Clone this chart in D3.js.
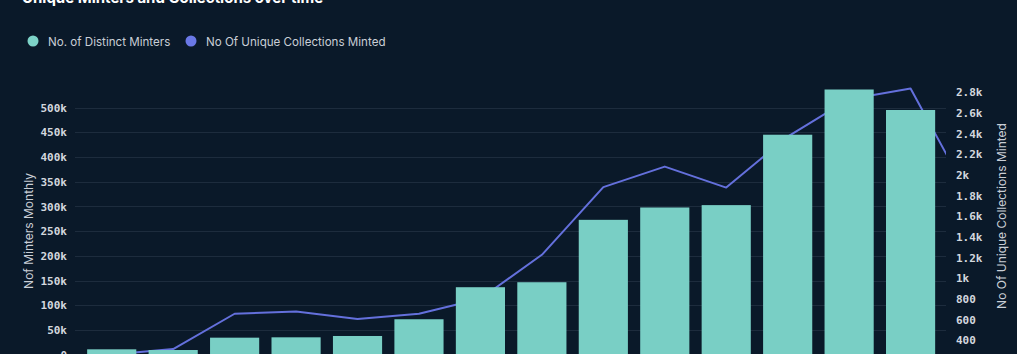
<!DOCTYPE html>
<html lang="en">
<head>
  <meta charset="utf-8" />
  <title>Unique Minters and Collections over time</title>
  <script src="https://cdn.jsdelivr.net/npm/d3@7"></script>
  <style>
    html, body { margin: 0; padding: 0; background: #0a1929; overflow: hidden; }
    svg { display: block; }
    .title { font: 700 15px Inter, sans-serif; fill: #ffffff; }
    .legend text { font: 400 11.6px Inter, sans-serif; fill: #c9ced6; }
    .tick text { font: 700 11px "DejaVu Sans Mono", monospace; fill: #d3d7de; }
    .axis-title { font: 400 12px Inter, sans-serif; fill: #c9ced6; }
    .grid line { stroke: #1d2c3d; stroke-width: 1; }
    .bar { fill: #79cfc5; }
    .line { fill: none; stroke: #6470dc; stroke-width: 2; stroke-linejoin: round; }
  </style>
</head>
<body>
<svg id="chart"></svg>
<script>
// months shown (x labels are cut off in the picture, last month only has collections)
const months = ["M01","M02","M03","M04","M05","M06","M07","M08","M09","M10","M11","M12","M13","M14","M15"];
// No. of Distinct Minters (left axis)
const minters = [10700, 9300, 34300, 35000, 37700, 71600, 136500, 146600, 273000, 298000, 302800, 445400, 537000, 495500, null];
// No Of Unique Collections Minted (right axis)
const collections = [262, 316, 657, 679, 606, 657, 802, 1227, 1881, 2080, 1877, 2370, 2732, 2835, 1745];

const leftTicks = [0, 50000, 100000, 150000, 200000, 250000, 300000, 350000, 400000, 450000, 500000];
const rightTicks = [400, 600, 800, 1000, 1200, 1400, 1600, 1800, 2000, 2200, 2400, 2600, 2800];

const W = 1017, H = 354;
const plot = { left: 75, right: 946, top: 89.5, bottom: 354.6 };

const svg = d3.select('#chart').attr('width', W).attr('height', H);

const fmt = v => v >= 1000 ? (v / 1000) + 'k' : String(v);

const x = d3.scaleBand().domain(months).range([81, 1002.75]).paddingInner(0.2).paddingOuter(0.1);
const yL = d3.scaleLinear().domain([0, d3.max(minters)]).range([plot.bottom, plot.top]);
const yR = d3.scaleLinear().domain(d3.extent(collections)).range([plot.bottom, 88.5]);

svg.append('defs').append('clipPath').attr('id', 'plotclip')
  .append('rect').attr('x', plot.left).attr('y', 0)
  .attr('width', plot.right - plot.left).attr('height', plot.bottom + 20);

/* ---- title (cut at the top) ---- */
svg.append('text').attr('class', 'title').attr('x', 22).attr('y', 3)
  .text('Unique Minters and Collections over time');

/* ---- legend ---- */
const legend = svg.append('g').attr('class', 'legend');
const legendItems = [
  { label: 'No. of Distinct Minters', color: '#7dd3c8', cx: 33 },
  { label: 'No Of Unique Collections Minted', color: '#6a78e6', cx: 191 }
];
legendItems.forEach(it => {
  legend.append('circle').attr('cx', it.cx).attr('cy', 41).attr('r', 5.5).attr('fill', it.color);
  legend.append('text').attr('x', it.cx + 15).attr('y', 45.5).text(it.label);
});

/* ---- grid ---- */
svg.append('g').attr('class', 'grid')
  .selectAll('line').data(leftTicks).join('line')
  .attr('x1', plot.left).attr('x2', plot.right)
  .attr('y1', d => Math.round(yL(d)) + 0.5).attr('y2', d => Math.round(yL(d)) + 0.5);

/* ---- line (under the bars) ---- */
const line = d3.line()
  .x((d, i) => x(months[i]) + x.bandwidth() / 2)
  .y(d => yR(d));
svg.append('path').attr('class', 'line').attr('clip-path', 'url(#plotclip)')
  .attr('d', line(collections));

/* ---- bars ---- */
svg.append('g').selectAll('rect')
  .data(months.map((m, i) => ({ m, v: minters[i] })).filter(d => d.v != null))
  .join('rect').attr('class', 'bar')
  .attr('x', d => x(d.m)).attr('width', x.bandwidth())
  .attr('y', d => yL(d.v)).attr('height', d => yL(0) - yL(d.v));

/* ---- axes ---- */
const axL = svg.append('g').attr('transform', `translate(${plot.left},0)`)
  .call(d3.axisLeft(yL).tickValues(leftTicks).tickFormat(fmt).tickSize(0).tickPadding(8));
axL.select('.domain').remove();

const axR = svg.append('g').attr('transform', `translate(${plot.right},0)`)
  .call(d3.axisRight(yR).tickValues(rightTicks).tickFormat(fmt).tickSize(0).tickPadding(10));
axR.select('.domain').remove();

/* ---- axis titles ---- */
svg.append('text').attr('class', 'axis-title')
  .attr('transform', 'translate(33,231) rotate(-90)').attr('text-anchor', 'middle')
  .text('Nof Minters Monthly');
svg.append('text').attr('class', 'axis-title')
  .attr('transform', 'translate(1006,216) rotate(-90)').attr('text-anchor', 'middle')
  .text('No Of Unique Collections Minted');
</script>
</body>
</html>
